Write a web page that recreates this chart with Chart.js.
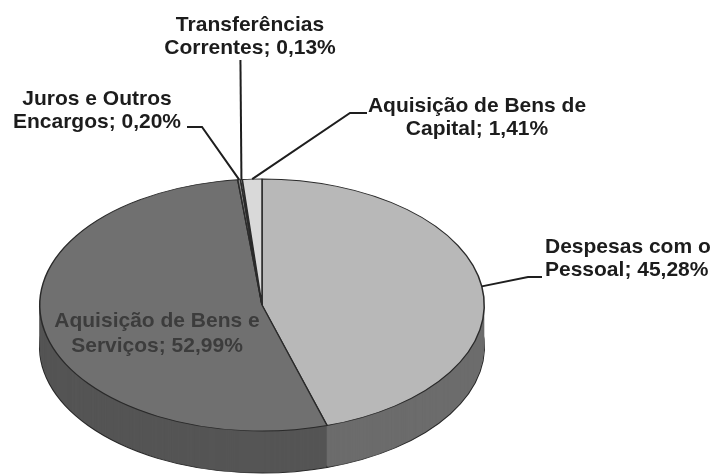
<!DOCTYPE html>
<html>
<head>
<meta charset="utf-8">
<script src="https://cdn.jsdelivr.net/npm/chart.js@4"></script>
<style>
  body { margin: 0; background: #fff; }
  #wrap { width: 717px; height: 475px; position: relative; }
</style>
</head>
<body>
<div id="wrap"><canvas id="pizza"></canvas></div>
<script>
const categorias = ['Despesas com o Pessoal', 'Aquisição de Bens e Serviços', 'Juros e Outros Encargos', 'Transferências Correntes', 'Aquisição de Bens de Capital'];
const percentuais = [45.28, 52.99, 0.20, 0.13, 1.41];
const coresTopo = ['#b8b8b8', '#707070', '#8c8c8c', '#e4e4e4', '#d9d9d9'];
const coresLado = ['#6c6c6c', '#555555', '#555555', '#999999', '#999999'];

// aparencia 3D: achata o disco e empilha a lateral
const CENTRO_Y = 305;
const RAIO_Y = 126;
const PROFUNDIDADE = 42;

// posicao dos rotulos (linha 1), cotovelo e fim das linhas de chamada
const rotulos = [
    { x: 545, y: 253, align: 'left', cotovelo: [528, 277], fim: [542, 277] },
    { x: 157, y: 327, align: 'center', dentro: true },
    { x: 97, y: 105, align: 'center', cotovelo: [202, 127], fim: [187, 127] },
    { x: 250, y: 31, align: 'center', vertical: 60 },
    { x: 477, y: 112, align: 'center', cotovelo: [350, 113], fim: [367, 113] }
];

function achatar(ctx, chart) {
    const arc = chart.getDatasetMeta(0).data[0];
    const ratio = RAIO_Y / arc.outerRadius;
    ctx.translate(0, CENTRO_Y);
    ctx.scale(1, ratio);
    ctx.translate(0, -arc.y);
}

function textoRotulo(i) {
    const palavras = categorias[i].split(' ');
    const ultima = palavras.pop();
    const valor = percentuais[i].toLocaleString('pt-BR', { minimumFractionDigits: 2 });
    return [palavras.join(' '), `${ultima}; ${valor}%`];
}

const pizza3d = {
    id: 'pizza3d',
    beforeDatasetsDraw(chart) {
        const ctx = chart.ctx;
        const arcs = chart.getDatasetMeta(0).data;
        for (let k = PROFUNDIDADE; k >= 1; k--) {
            ctx.save();
            ctx.translate(0, k);
            achatar(ctx, chart);
            arcs.forEach((arc, i) => {
                const falso = Object.create(arc);
                falso.options = Object.assign({}, arc.options, {
                    backgroundColor: coresLado[i],
                    borderColor: '#2a2a2a',
                    borderWidth: k === PROFUNDIDADE ? 1.5 : 0
                });
                falso.draw(ctx);
            });
            ctx.restore();
        }
        ctx.save();
        achatar(ctx, chart);
    },
    afterDatasetsDraw(chart) {
        const ctx = chart.ctx;
        ctx.restore();

        const arcs = chart.getDatasetMeta(0).data;
        const ratio = RAIO_Y / arcs[0].outerRadius;
        ctx.save();
        ctx.font = "bold 21px 'Liberation Sans', Arial, sans-serif";
        ctx.textBaseline = 'alphabetic';
        arcs.forEach((arc, i) => {
            const r = rotulos[i];
            const linhas = textoRotulo(i);
            const meio = (arc.startAngle + arc.endAngle) / 2;
            const ax = arc.x + Math.cos(meio) * arc.outerRadius;
            const ay = CENTRO_Y + Math.sin(meio) * arc.outerRadius * ratio;

            ctx.strokeStyle = '#1e1e1e';
            ctx.lineWidth = 2;
            if (r.cotovelo) {
                ctx.beginPath();
                ctx.moveTo(ax, ay);
                ctx.lineTo(r.cotovelo[0], r.cotovelo[1]);
                ctx.lineTo(r.fim[0], r.fim[1]);
                ctx.stroke();
            } else if (r.vertical) {
                ctx.beginPath();
                ctx.moveTo(ax, ay);
                ctx.lineTo(ax - 1, r.vertical);
                ctx.stroke();
            }

            ctx.fillStyle = r.dentro ? '#3c3c3c' : '#1c1c1c';
            ctx.textAlign = r.align;
            linhas.forEach((txt, j) => {
                ctx.fillText(txt, r.x, r.y + j * (r.dentro ? 25 : 23));
            });
        });
        ctx.restore();
    }
};

const ctxPizza = document.getElementById('pizza').getContext('2d');
new Chart(ctxPizza, {
    type: 'pie',
    data: {
        labels: categorias,
        datasets: [{
            data: percentuais,
            backgroundColor: coresTopo,
            borderColor: '#2a2a2a',
            borderWidth: 1.5,
            clip: false
        }]
    },
    options: {
        responsive: true,
        maintainAspectRatio: false,
        animation: false,
        layout: {
            padding: { left: 39, right: 232, top: 10, bottom: 10 }
        },
        plugins: {
            legend: { display: false },
            tooltip: { enabled: false }
        }
    },
    plugins: [pizza3d]
});
</script>
</body>
</html>
